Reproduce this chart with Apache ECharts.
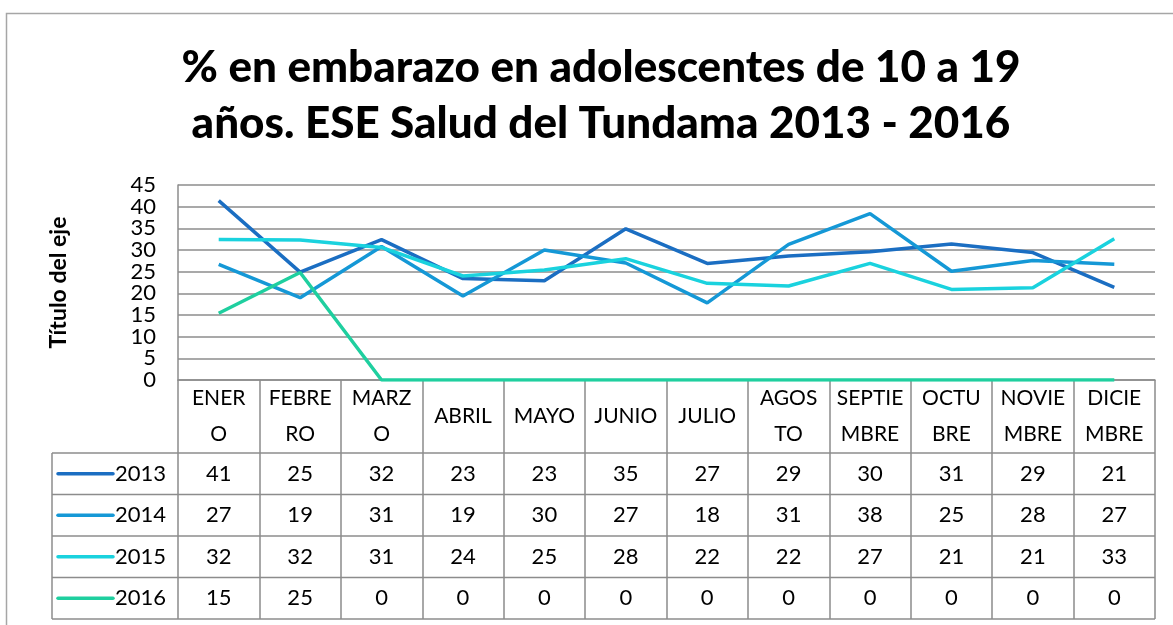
<!DOCTYPE html>
<html>
<head>
<meta charset="utf-8">
<title>% en embarazo en adolescentes</title>
<script src="https://cdn.jsdelivr.net/npm/echarts@6/dist/echarts.min.js"></script>
<style>
  html, body { margin: 0; padding: 0; background: #fff; }
  #chart { width: 1173px; height: 625px; }
</style>
</head>
<body>
<div id="chart"></div>
<script>
// data (table shows the rounded values)
var months = ['ENERO', 'FEBRERO', 'MARZO', 'ABRIL', 'MAYO', 'JUNIO', 'JULIO',
  'AGOSTO', 'SEPTIEMBRE', 'OCTUBRE', 'NOVIEMBRE', 'DICIEMBRE'];
var monthLabels = ['ENER\nO', 'FEBRE\nRO', 'MARZ\nO', 'ABRIL', 'MAYO', 'JUNIO', 'JULIO',
  'AGOS\nTO', 'SEPTIE\nMBRE', 'OCTU\nBRE', 'NOVIE\nMBRE', 'DICIE\nMBRE'];
var years = ['2013', '2014', '2015', '2016'];
var y2013 = [41.4, 24.9, 32.4, 23.4, 22.9, 34.9, 26.9, 28.6, 29.6, 31.4, 29.4, 21.4];
var y2014 = [26.7, 19.0, 30.8, 19.4, 30.0, 27.0, 17.8, 31.3, 38.4, 25.1, 27.6, 26.7];
var y2015 = [32.4, 32.3, 30.6, 24.0, 25.4, 28.0, 22.3, 21.7, 26.9, 20.9, 21.3, 32.6];
var y2016 = [15.4, 24.8, 0, 0, 0, 0, 0, 0, 0, 0, 0, 0];
var yTicks = [0, 5, 10, 15, 20, 25, 30, 35, 40, 45];
var yMin = 0, yMax = 45, yStep = 5;

var colors = ['#1b6ec2', '#1598d6', '#1ad2de', '#1fcf9f'];
var font = 'Lato, "Noto Sans", sans-serif';
var lineGray = '#8c8c8c';

// layout
var plotLeft = 178, plotRight = 1155, plotTop = 185, plotBottom = 380;
var headerH = 73, rowH = 41.5, tableLeft = 52;

var chart = echarts.init(document.getElementById('chart'));
var rows = [y2013, y2014, y2015, y2016];

var option = {
  animation: false,
  color: colors,
  title: {
    text: '% en embarazo en adolescentes de 10 a 19\naños. ESE Salud del Tundama 2013 - 2016',
    left: 596,
    top: 35,
    textAlign: 'center',
    textStyle: { fontFamily: font, fontSize: 44, fontWeight: 900, lineHeight: 56, color: '#000' }
  },
  grid: {
    left: plotLeft,
    right: 1173 - plotRight,
    top: plotTop,
    bottom: 625 - plotBottom,
    containLabel: false,
    outerBoundsMode: 'none'
  },
  xAxis: {
    type: 'category',
    data: months,
    boundaryGap: true,
    axisLine: { lineStyle: { color: lineGray, width: 1.5 } },
    axisTick: {
      show: true,
      alignWithLabel: false,
      length: headerH + rowH * rows.length,
      lineStyle: { color: lineGray, width: 1.5 }
    },
    axisLabel: {
      interval: 0,
      margin: headerH / 2,
      verticalAlign: 'middle',
      fontFamily: font,
      fontSize: 21,
      lineHeight: 36,
      color: '#000',
      formatter: function (v, i) { return monthLabels[i]; }
    }
  },
  yAxis: {
    type: 'value',
    min: yMin,
    max: yMax,
    interval: yStep,
    name: 'Título del eje',
    nameLocation: 'middle',
    nameRotate: 90,
    nameGap: 108,
    nameTextStyle: { fontFamily: font, fontSize: 23, fontWeight: 'bold', color: '#000' },
    axisLine: { show: true, lineStyle: { color: lineGray, width: 1.5 } },
    axisTick: { show: false },
    splitLine: { lineStyle: { color: lineGray, width: 1.5 } },
    // labels are tightly packed, so they are placed below from yTicks
    axisLabel: { show: false }
  },
  series: rows.map(function (vals, r) {
    return {
      name: years[r],
      type: 'line',
      data: vals,
      symbol: 'none',
      lineStyle: { width: 3.5, color: colors[r] },
      z: 2 + r
    };
  })
};
chart.setOption(option);

// y tick labels and the data table, placed through the axis scales
function drawTable() {
  var els = [];
  var rowTop = plotBottom + headerH;
  // outer chart border
  els.push({ type: 'rect', shape: { x: 6.5, y: 13.5, width: 1200, height: 700 },
    style: { fill: null, stroke: '#a6a6a6', lineWidth: 1.5 }, silent: true });
  yTicks.forEach(function (t) {
    els.push({ type: 'text', x: plotLeft - 22, y: chart.convertToPixel({ yAxisIndex: 0 }, t),
      style: { text: String(t), fontFamily: font, fontSize: 22, fill: '#000', align: 'right', verticalAlign: 'middle' } });
  });
  for (var r = 0; r <= rows.length; r++) {
    var yy = rowTop + r * rowH;
    els.push({ type: 'line', shape: { x1: tableLeft, y1: yy, x2: plotRight, y2: yy },
      style: { stroke: lineGray, lineWidth: 1.5 }, silent: true });
  }
  els.push({ type: 'line', shape: { x1: tableLeft, y1: rowTop, x2: tableLeft, y2: rowTop + rowH * rows.length },
    style: { stroke: lineGray, lineWidth: 1.5 }, silent: true });
  rows.forEach(function (vals, r) {
    var cy = rowTop + r * rowH + rowH / 2;
    els.push({ type: 'line', shape: { x1: 58, y1: cy, x2: 113, y2: cy },
      style: { stroke: colors[r], lineWidth: 3.5, lineCap: 'round' }, silent: true });
    els.push({ type: 'text', x: 115, y: cy,
      style: { text: years[r], fontFamily: font, fontSize: 22, fill: '#000', align: 'left', verticalAlign: 'middle' } });
    vals.forEach(function (v, i) {
      var cx = chart.convertToPixel({ xAxisIndex: 0 }, i);
      els.push({ type: 'text', x: cx, y: cy,
        style: { text: String(Math.round(v)), fontFamily: font, fontSize: 22, fill: '#000', align: 'center', verticalAlign: 'middle' } });
    });
  });
  chart.setOption({ graphic: els });
}
drawTable();
</script>
</body>
</html>
